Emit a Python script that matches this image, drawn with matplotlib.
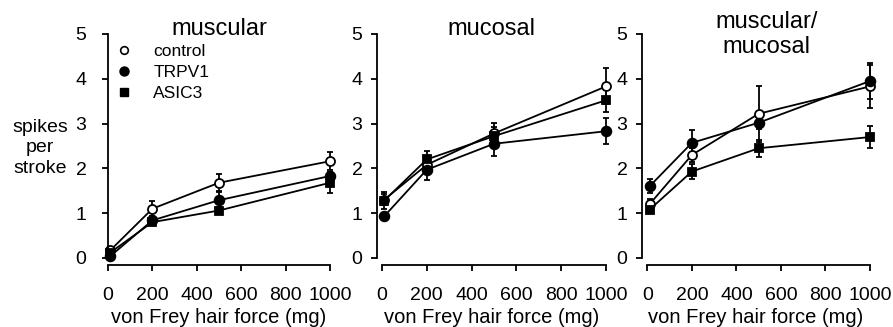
import matplotlib
matplotlib.use("Agg")
import matplotlib.pyplot as plt
from matplotlib.lines import Line2D

plt.rcParams['font.family'] = ['Liberation Sans', 'DejaVu Sans']

force = [10, 200, 500, 1000]
titles = ["muscular", "mucosal", "muscular/\nmucosal"]

# mean spikes per stroke, one list per panel
control_mean = [[0.17, 1.10, 1.68, 2.16], [1.30, 2.08, 2.78, 3.83], [1.20, 2.30, 3.22, 3.83]]
control_err = [[0.05, 0.17, 0.19, 0.20], [0.12, 0.15, 0.24, 0.40], [0.12, 0.15, 0.63, 0.48]]
trpv1_mean = [[0.04, 0.84, 1.29, 1.83], [0.93, 1.97, 2.55, 2.83], [1.60, 2.57, 3.02, 3.95]]
trpv1_err = [[0.04, 0.08, 0.18, 0.10], [0.08, 0.24, 0.27, 0.29], [0.16, 0.28, 0.15, 0.41]]
asic3_mean = [[0.12, 0.80, 1.06, 1.68], [1.28, 2.20, 2.72, 3.52], [1.08, 1.93, 2.45, 2.70]]
asic3_err = [[0.05, 0.06, 0.08, 0.24], [0.19, 0.18, 0.20, 0.25], [0.08, 0.16, 0.19, 0.24]]

W, H = 893, 327
fig = plt.figure(figsize=(W / 100, H / 100), dpi=100)

# axes boxes in pixels: (spine x, x of 1000, xlim left)
boxes = [(108, 330, 0), (377, 606, -22), (642, 870, -24)]
top_px, bot_px = 34, 258
ah = bot_px - top_px

lw = 1.3
for i, (x0, x1, xl) in enumerate(boxes):
    ax = fig.add_axes([x0 / W, 1 - bot_px / H, (x1 - x0) / W, ah / H])
    ax.set_xlim(xl, 1000)
    ax.set_ylim(0, 5)
    for name, mean, err, mk, fc, ms in [("control", control_mean, control_err, 'o', 'white', 6.5),
                                        ("TRPV1", trpv1_mean, trpv1_err, 'o', 'black', 7),
                                        ("ASIC3", asic3_mean, asic3_err, 's', 'black', 5.8)]:
        ax.errorbar(force, mean[i], yerr=err[i], color='black', lw=lw, marker=mk,
                    markersize=ms, mfc=fc, mec='black', mew=1.3,
                    capsize=2.2, capthick=lw, elinewidth=lw, clip_on=False)
    for s in ['top', 'right']:
        ax.spines[s].set_visible(False)
    ax.spines['bottom'].set_position(('outward', 5))
    ax.spines['bottom'].set_bounds(0, 1000)
    ax.spines['left'].set_bounds(0, 5)
    for s in ['left', 'bottom']:
        ax.spines[s].set_linewidth(1.3)
    ax.set_xticks([0, 200, 400, 600, 800, 1000])
    ax.set_yticks([0, 1, 2, 3, 4, 5])
    ax.tick_params(axis='y', length=4.5, width=1.3, pad=11 if i == 0 else 6, labelsize=14)
    ax.tick_params(axis='x', length=4, width=1.3, pad=12, labelsize=14)
    ax.set_xlabel("von Frey hair force (mg)", fontsize=14.5, labelpad=2.5)
    ax.patch.set_visible(False)
    if i < 2:
        ax.text(0.5, 1 - 1 / ah, titles[i], transform=ax.transAxes, ha='center', va='baseline', fontsize=17)
    else:
        ax.text(0.545, 1 + 23 / ah, titles[i], transform=ax.transAxes, ha='center', va='top',
                fontsize=17, linespacing=1.2)
    if i == 0:
        handles = [
            Line2D([0], [0], marker='o', ls='none', mfc='white', mec='black', mew=1.2, markersize=5.5),
            Line2D([0], [0], marker='o', ls='none', mfc='black', mec='black', markersize=6.5),
            Line2D([0], [0], marker='s', ls='none', mfc='black', mec='black', markersize=5.5),
        ]
        ax.legend(handles, ["control", "TRPV1", "ASIC3"], loc='upper left', frameon=False,
                  fontsize=12.5, bbox_to_anchor=(0.0, 0.995), handlelength=0.8,
                  handletextpad=1.3, labelspacing=0.35, borderaxespad=0.1)

fig.text(40 / W, 1 - 148 / H, "spikes\nper\nstroke", ha='center', va='center',
         fontsize=14, linespacing=1.25)

fig.savefig("out.png", dpi=100)
